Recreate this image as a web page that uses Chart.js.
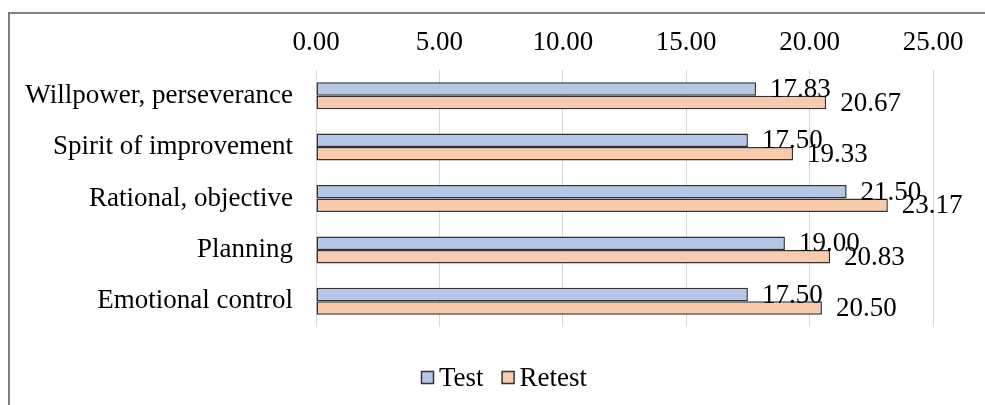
<!DOCTYPE html>
<html>
<head>
<meta charset="utf-8">
<script src="https://cdn.jsdelivr.net/npm/chart.js@4"></script>
<style>
  html, body { margin: 0; padding: 0; background: #fff; }
  #wrap { position: relative; width: 985px; height: 405px; overflow: hidden; }
  #frame { position: absolute; left: 8px; top: 12px; right: -10px; bottom: -10px;
           border-left: 2px solid #7f7f7f; border-top: 2px solid #7f7f7f; }
  canvas { position: absolute; left: 0; top: 0; }
</style>
</head>
<body>
<div id="wrap">
  <div id="frame"></div>
  <canvas id="c" width="985" height="405"></canvas>
</div>
<script>
const categories = [
  'Willpower, perseverance',
  'Spirit of improvement',
  'Rational, objective',
  'Planning',
  'Emotional control'
];
const seriesNames = ['Test', 'Retest'];
const testScores = [17.83, 17.50, 21.50, 19.00, 17.50];
const retestScores = [20.67, 19.33, 23.17, 20.83, 20.50];
const xTickValues = [0, 5, 10, 15, 20, 25];

const FONT = "'Liberation Serif', 'Times New Roman', serif";
const FONT_SIZE = 27;

// Value labels written just past the end of each bar
const valueLabels = {
  id: 'valueLabels',
  afterDatasetsDraw(chart) {
    const ctx = chart.ctx;
    ctx.save();
    ctx.font = FONT_SIZE + 'px ' + FONT;
    ctx.fillStyle = '#000';
    ctx.textAlign = 'left';
    ctx.textBaseline = 'middle';
    chart.data.datasets.forEach((ds, i) => {
      chart.getDatasetMeta(i).data.forEach((bar, j) => {
        ctx.fillText(ds.data[j].toFixed(2), bar.x + 14, bar.y + 1);
      });
    });
    ctx.restore();
  }
};

// Legend row beneath the plot: small bordered squares followed by the series names
const bottomLegend = {
  id: 'bottomLegend',
  afterDraw(chart) {
    const ctx = chart.ctx;
    const box = 13, gapText = 5, gapItem = 18, cy = 378, cx = 504;
    ctx.save();
    ctx.font = FONT_SIZE + 'px ' + FONT;
    ctx.textBaseline = 'middle';
    ctx.textAlign = 'left';
    const items = chart.data.datasets.map(ds => ({
      label: ds.label, fill: ds.backgroundColor, stroke: ds.borderColor,
      w: box + gapText + ctx.measureText(ds.label).width
    }));
    const total = items.reduce((s, it) => s + it.w, 0) + gapItem * (items.length - 1);
    let x = Math.round(cx - total / 2);
    items.forEach(it => {
      ctx.fillStyle = it.fill;
      ctx.fillRect(x + 0.5, cy - 6.5, box - 1, box - 1);
      ctx.strokeStyle = it.stroke;
      ctx.lineWidth = 1.5;
      ctx.strokeRect(x + 0.5, cy - 6.5, box - 1, box - 1);
      ctx.fillStyle = '#000';
      ctx.fillText(it.label, x + box + gapText, cy + 1);
      x += it.w + gapItem;
    });
    ctx.restore();
  }
};

new Chart(document.getElementById('c'), {
  type: 'bar',
  data: {
    labels: categories,
    datasets: [
      { label: seriesNames[0], data: testScores, backgroundColor: '#b4c7e7',
        borderColor: '#333333', borderWidth: 1.5, borderSkipped: false },
      { label: seriesNames[1], data: retestScores, backgroundColor: '#f8cbad',
        borderColor: '#333333', borderWidth: 1.5, borderSkipped: false }
    ]
  },
  options: {
    indexAxis: 'y',
    responsive: false,
    devicePixelRatio: 1,
    animation: false,
    categoryPercentage: 0.525,
    barPercentage: 1.0,
    layout: { padding: { left: 10, right: 52, top: 0, bottom: 78 } },
    plugins: {
      legend: { display: false },
      tooltip: { enabled: false }
    },
    scales: {
      x: {
        position: 'top',
        min: 0,
        max: 25,
        afterBuildTicks: (s) => { s.ticks = xTickValues.map(v => ({ value: v })); },
        afterFit: (s) => { s.height = 70; },
        grid: { color: '#d9d9d9', lineWidth: 1, drawTicks: false },
        border: { display: false },
        ticks: {
          padding: 11,
          color: '#000',
          font: { family: FONT, size: FONT_SIZE },
          callback: (v) => Number(v).toFixed(2)
        }
      },
      y: {
        afterFit: (s) => { s.width = 306; },
        grid: { display: false, drawTicks: false },
        border: { display: false },
        ticks: {
          padding: 23,
          color: '#000',
          font: { family: FONT, size: FONT_SIZE }
        }
      }
    }
  },
  plugins: [valueLabels, bottomLegend]
});
</script>
</body>
</html>
